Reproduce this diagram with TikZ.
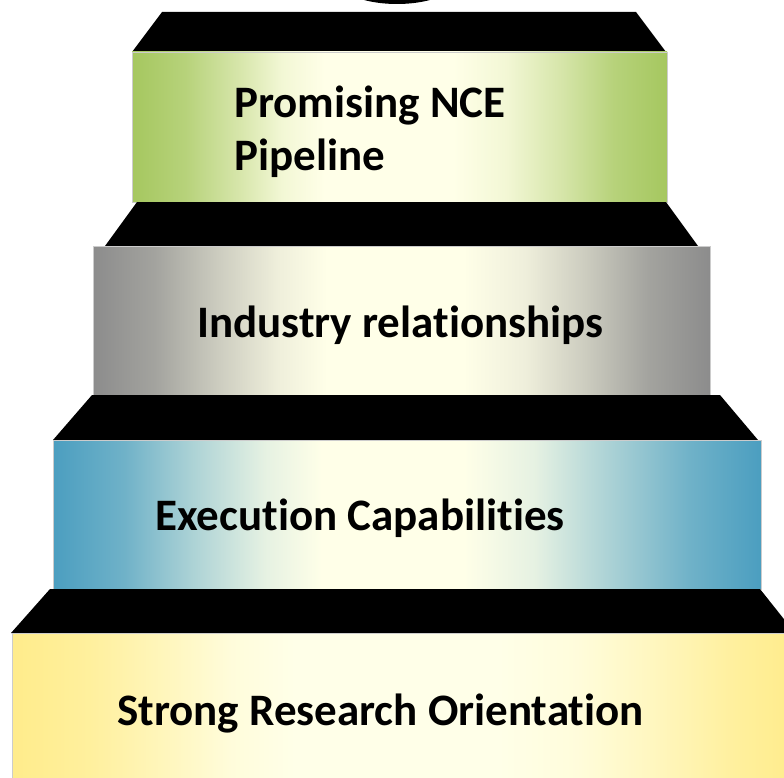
\documentclass[tikz,border=0pt]{standalone}
\usepackage{fontspec}
\setmainfont{Carlito}[Ligatures={NoCommon}]
\definecolor{lite}{RGB}{255,255,232}
\definecolor{grnE}{RGB}{165,199,95}
\definecolor{gryE}{RGB}{140,140,140}
\definecolor{bluE}{RGB}{75,158,192}
\definecolor{yelE}{RGB}{255,236,139}
\colorlet{grnA}{grnE!80!lite}\colorlet{grnB}{grnE!45!lite}\colorlet{grnC}{grnE!14!lite}
\colorlet{gryA}{gryE!80!lite}\colorlet{gryB}{gryE!45!lite}\colorlet{gryC}{gryE!14!lite}
\colorlet{bluA}{bluE!80!lite}\colorlet{bluB}{bluE!45!lite}\colorlet{bluC}{bluE!14!lite}
\colorlet{yelA}{yelE!80!lite}\colorlet{yelB}{yelE!45!lite}\colorlet{yelC}{yelE!14!lite}
\pgfdeclarehorizontalshading{shgreen}{100bp}{color(0bp)=(grnE); color(25bp)=(grnE); color(30bp)=(grnA); color(35bp)=(grnB); color(39bp)=(grnC); color(43bp)=(lite); color(55bp)=(lite); color(60bp)=(grnC); color(65bp)=(grnB); color(70bp)=(grnA); color(75bp)=(grnE); color(100bp)=(grnE)}
\pgfdeclarehorizontalshading{shgray}{100bp}{color(0bp)=(gryE); color(25bp)=(gryE); color(30bp)=(gryA); color(35bp)=(gryB); color(40bp)=(gryC); color(44bp)=(lite); color(55bp)=(lite); color(60bp)=(gryC); color(65bp)=(gryB); color(70bp)=(gryA); color(75bp)=(gryE); color(100bp)=(gryE)}
\pgfdeclarehorizontalshading{shblue}{100bp}{color(0bp)=(bluE); color(25bp)=(bluE); color(30bp)=(bluA); color(35bp)=(bluB); color(40bp)=(bluC); color(44bp)=(lite); color(54bp)=(lite); color(59bp)=(bluC); color(64bp)=(bluB); color(70bp)=(bluA); color(75bp)=(bluE); color(100bp)=(bluE)}
\pgfdeclarehorizontalshading{shyellow}{100bp}{color(0bp)=(yelE); color(25bp)=(yelE); color(30bp)=(yelA); color(35bp)=(yelB); color(39bp)=(yelC); color(43bp)=(lite); color(56bp)=(lite); color(61bp)=(yelC); color(66bp)=(yelB); color(71bp)=(yelA); color(75bp)=(yelE); color(100bp)=(yelE)}
\tikzset{
  stair/.style={fill=black},
  boxedge/.style={draw=black!20, line width=0.6bp},
  lbl/.style={inner sep=0pt, anchor=base west, align=left,
    font=\bfseries\fontsize{45bp}{53bp}\selectfont}
}
\begin{document}
\begin{tikzpicture}[x=1bp,y=-1bp]
\useasboundingbox (0,0) rectangle (784,778);
\clip (0,0) rectangle (784,778);
% top ellipse
\fill[black] (397,-30) ellipse [x radius=70, y radius=34];
% tier 1
\fill[stair] (162,12) -- (636,12) -- (666,52) -- (132,52) -- cycle;
\path[shading=shgreen, boxedge] (132,52) rectangle (667,202);
% tier 2
\fill[stair] (137,202) -- (666,202) -- (698,246) -- (105,246) -- cycle;
\path[shading=shgray, boxedge] (93,246) rectangle (710,395);
% tier 3
\fill[stair] (92,395) -- (720,395) -- (758,440) -- (53,440) -- cycle;
\path[shading=shblue, boxedge] (53,440) rectangle (761,589);
% tier 4
\fill[stair] (50,589) -- (760,589) -- (795,633) -- (11,633) -- cycle;
\path[shading=shyellow, boxedge] (12,633) rectangle (797,790);
% labels
\node[lbl] (t1) at (234,170) {Promising NCE\\Pipeline};
\node[lbl] (t2) at (197,337) {Industry relationships};
\node[lbl] (t3) at (155,530) {Execution Capabilities};
\node[lbl] (t4) at (117,725) {Strong Research Orientation};
\end{tikzpicture}
\end{document}
